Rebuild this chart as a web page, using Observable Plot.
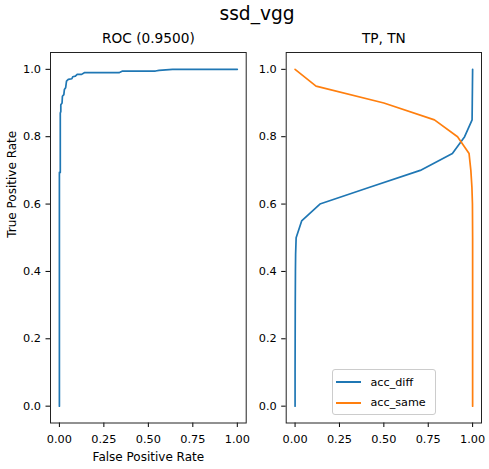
<!DOCTYPE html>
<html>
<head>
<meta charset="utf-8">
<script src="https://cdn.jsdelivr.net/npm/d3@7"></script>
<script src="https://cdn.jsdelivr.net/npm/@observablehq/plot@0.6"></script>
<style>
  html, body { margin: 0; padding: 0; background: #fff; }
  #fig { position: relative; width: 489px; height: 469px; background: #fff; font-family: "DejaVu Sans", sans-serif; color: #000; overflow: hidden; }
  #fig svg { position: absolute; top: 0; overflow: visible; }
  .abs { position: absolute; white-space: nowrap; line-height: 1; }
  #legend { position: absolute; left: 331.5px; top: 368.5px; width: 104px; height: 46px; border: 1px solid #cccccc; border-radius: 3px; background: rgba(255,255,255,0.8); box-sizing: border-box; }
  .lg-row { position: absolute; left: 3px; height: 12px; display: flex; align-items: center; font-size: 11.2px; }
  .lg-sw { width: 25px; height: 1.7px; margin-right: 10px; }
</style>
</head>
<body>
<div id="fig"></div>
<script>
// ---- data ----
const rocFpr = [0, 0, 0.005, 0.005, 0.008, 0.008, 0.015, 0.017, 0.025, 0.028, 0.035, 0.04, 0.05, 0.07, 0.075, 0.09, 0.10, 0.125, 0.14, 0.335, 0.355, 0.54, 0.56, 0.636, 1.0];
const rocTpr = [0, 0.694, 0.694, 0.87, 0.875, 0.895, 0.90, 0.92, 0.925, 0.94, 0.945, 0.965, 0.97, 0.972, 0.978, 0.98, 0.985, 0.985, 0.99, 0.99, 0.995, 0.995, 0.997, 1.0, 1.0];

const thrDiff = [0, 0.1, 0.2, 0.3, 0.4, 0.45, 0.5, 0.55, 0.6, 0.65, 0.7, 0.75, 0.8, 0.85, 0.9, 0.95, 1.0];
const accDiff = [0, 0, 0.0005, 0.001, 0.002, 0.003, 0.006, 0.037, 0.14, 0.42, 0.705, 0.886, 0.955, 0.997, 0.998, 0.999, 1.0];

const thrSame = [1.0, 0.95, 0.9, 0.85, 0.8, 0.75, 0.7, 0.65, 0.6, 0.5, 0.4, 0.0];
const accSame = [0, 0.118, 0.50, 0.785, 0.915, 0.98, 0.99, 0.996, 0.999, 1.0, 1.0, 1.0];

const xTicks = [0, 0.25, 0.5, 0.75, 1.0];
const yTicks = [0, 0.2, 0.4, 0.6, 0.8, 1.0];

const suptitle = "ssd_vgg";
const leftTitle = "ROC (0.9500)";
const rightTitle = "TP, TN";
const xLabelLeft = "False Positive Rate";
const yLabelLeft = "True Positive Rate";
const seriesNames = ["acc_diff", "acc_same"];
const colors = ["#1f77b4", "#ff7f0e"];

// ---- tables ----
const roc = rocFpr.map((x, i) => ({x, y: rocTpr[i]}));
const diff = accDiff.map((x, i) => ({x, y: thrDiff[i]}));
const same = accSame.map((x, i) => ({x, y: thrSame[i]}));

const fig = document.getElementById("fig");
const H = 469;
const mTop = 52, mBottom = H - 422.5;

function axes(opts) {
  return [
    Plot.axisX({ticks: xTicks, tickFormat: d3.format(".2f"), tickSize: 4.5, tickPadding: 7, label: null, fontSize: 11.3}),
    Plot.axisY({ticks: yTicks, tickFormat: d3.format(".1f"), tickSize: 4.5, tickPadding: 5, label: null, fontSize: 11.3}),
    Plot.frame({stroke: "#222", strokeWidth: 1})
  ];
}

const left = Plot.plot({
  width: 250, height: H,
  marginLeft: 50, marginRight: 4.3, marginTop: mTop, marginBottom: mBottom,
  style: {fontFamily: "DejaVu Sans", fontSize: "11.3px", background: "transparent", color: "#000"},
  x: {domain: [-0.05, 1.05]},
  y: {domain: [-0.05, 1.05]},
  marks: [
    ...axes(),
    Plot.line(roc, {x: "x", y: "y", stroke: colors[0], strokeWidth: 1.7, curve: "linear"}),
    Plot.text([leftTitle], {frameAnchor: "top", dy: -13.5, lineAnchor: "middle", fontSize: 13.7, fill: "#000"}),
    Plot.text([xLabelLeft], {frameAnchor: "bottom", dy: 34.5, lineAnchor: "middle", fontSize: 12, fill: "#000"}),
    Plot.text([yLabelLeft], {frameAnchor: "left", dx: -38.5, rotate: -90, lineAnchor: "middle", fontSize: 12, fill: "#000"})
  ]
});
left.style.left = "0px";
fig.appendChild(left);

const right = Plot.plot({
  width: 244, height: H,
  marginLeft: 40.7, marginRight: 8, marginTop: mTop, marginBottom: mBottom,
  style: {fontFamily: "DejaVu Sans", fontSize: "11.3px", background: "transparent", color: "#000"},
  x: {domain: [-0.05, 1.05]},
  y: {domain: [-0.05, 1.05]},
  marks: [
    ...axes(),
    Plot.line(diff, {x: "x", y: "y", stroke: colors[0], strokeWidth: 1.7}),
    Plot.line(same, {x: "x", y: "y", stroke: colors[1], strokeWidth: 1.7}),
    Plot.text([rightTitle], {frameAnchor: "top", dy: -13.5, lineAnchor: "middle", fontSize: 13.7, fill: "#000"})
  ]
});
right.style.left = "245px";
fig.appendChild(right);

// suptitle
const st = document.createElement("div");
st.className = "abs";
st.textContent = suptitle;
st.style.cssText += "left:0;width:514px;text-align:center;top:5px;font-size:18.6px;";
fig.appendChild(st);

// legend
const lg = document.createElement("div");
lg.id = "legend";
seriesNames.forEach((name, i) => {
  const row = document.createElement("div");
  row.className = "lg-row";
  row.style.top = (i === 0 ? 6.7 : 27.3) + "px";
  const sw = document.createElement("span");
  sw.className = "lg-sw";
  sw.style.background = colors[i];
  row.appendChild(sw);
  const t = document.createElement("span");
  t.textContent = name;
  row.appendChild(t);
  lg.appendChild(row);
});
fig.appendChild(lg);
</script>
</body>
</html>
